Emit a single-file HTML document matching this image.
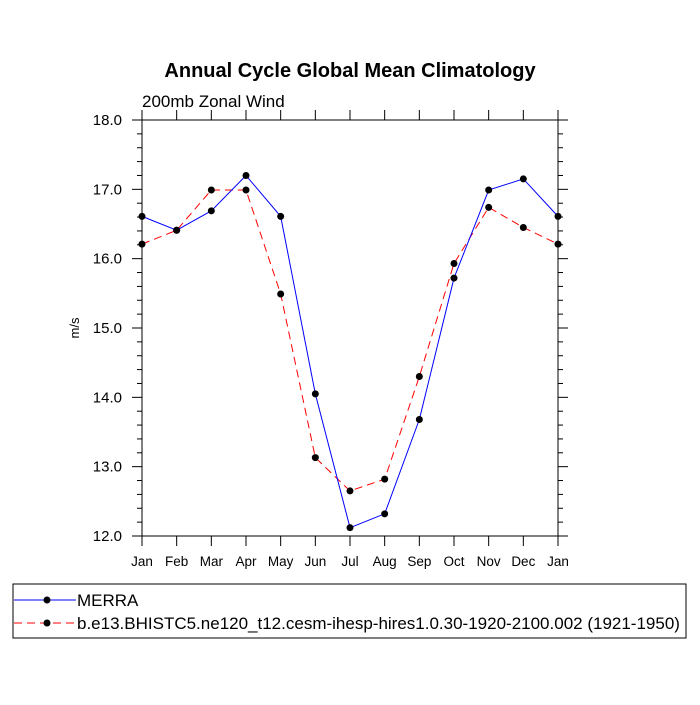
<!DOCTYPE html>
<html><head><meta charset="utf-8"><style>
body{margin:0;background:#fff;}
svg text{font-family:"Liberation Sans",sans-serif;}
</style></head><body>
<svg id="chart" width="700" height="700" xmlns="http://www.w3.org/2000/svg">
<text x="350" y="77" text-anchor="middle" font-size="20" font-weight="bold">Annual Cycle Global Mean Climatology</text>
<text x="142" y="107" font-size="17">200mb Zonal Wind</text>
<text transform="translate(79,328) rotate(-90)" text-anchor="middle" font-size="13">m/s</text>
<rect x="142" y="120" width="416" height="416" fill="none" stroke="#000" stroke-width="1"/>
<g id="axes"></g>
<g id="series"></g>
<rect x="13" y="584" width="673" height="54" fill="none" stroke="#000" stroke-width="1"/>
<g>
<line x1="14" y1="600" x2="76" y2="600" stroke="#0000ff" stroke-width="1"/>
<circle cx="47" cy="600" r="3.5" fill="#000"/>
<text x="77" y="606" font-size="17">MERRA</text>
</g>
<g>
<line x1="14" y1="623" x2="76" y2="623" stroke="#ff0000" stroke-width="1" stroke-dasharray="8,5"/>
<circle cx="47" cy="623" r="3.5" fill="#000"/>
<text x="77" y="629" font-size="17">b.e13.BHISTC5.ne120_t12.cesm-ihesp-hires1.0.30-1920-2100.002 (1921-1950)</text>
</g>
</svg>
<script>
const months=["Jan","Feb","Mar","Apr","May","Jun","Jul","Aug","Sep","Oct","Nov","Dec","Jan"];
const merra=[16.61,16.41,16.69,17.20,16.61,14.05,12.12,12.32,13.68,15.72,16.99,17.15,16.61];
const model=[16.21,16.41,16.99,16.99,15.49,13.13,12.65,12.82,14.30,15.93,16.74,16.45,16.21];
const yTicks=["12.0","13.0","14.0","15.0","16.0","17.0","18.0"];
const NS="http://www.w3.org/2000/svg";
const X0=142,X1=558,Y0=536,Y1=120,YMIN=12,YMAX=18;
function xs(i){return X0+(X1-X0)*i/(months.length-1);}
function ys(v){return Y0-(v-YMIN)/(YMAX-YMIN)*(Y0-Y1);}
function mk(t,a,p){const e=document.createElementNS(NS,t);for(const k in a)e.setAttribute(k,a[k]);p.appendChild(e);return e;}
const ax=document.getElementById('axes');
months.forEach((m,i)=>{
 const x=xs(i);
 mk('line',{x1:x,y1:Y0,x2:x,y2:Y0+10,stroke:'#000'},ax);
 mk('line',{x1:x,y1:Y1,x2:x,y2:Y1-10,stroke:'#000'},ax);
 const t=mk('text',{x:x,y:Y0+30,'text-anchor':'middle','font-size':13.5},ax);
 t.textContent=m;
 
 
});
for(let v=YMIN;v<=YMAX+1e-6;v+=0.2){
 const y=ys(v),maj=Math.abs(v-Math.round(v))<1e-6,l=maj?10:5;
 mk('line',{x1:X0-l,y1:y,x2:X0,y2:y,stroke:'#000'},ax);
 mk('line',{x1:X1,y1:y,x2:X1+l,y2:y,stroke:'#000'},ax);
}
yTicks.forEach(s=>{
 const t=mk('text',{x:X0-20,y:ys(parseFloat(s))+5,'text-anchor':'end','font-size':15},ax);
 t.textContent=s;
 
 
});
const sg=document.getElementById('series');
function draw(vals,color,dash,name){
 const g=mk('g',{},sg);
 
 
 const p=mk('polyline',{points:vals.map((v,i)=>xs(i)+','+ys(v)).join(' '),fill:'none',stroke:color,'stroke-width':1},g);
 if(dash)p.setAttribute('stroke-dasharray',dash);
 vals.forEach((v,i)=>{
  const c=mk('circle',{cx:xs(i),cy:ys(v),r:3.5,fill:'#000'},g);
  
  
 });
}
draw(model,'#ff0000','8,5','series-model');
draw(merra,'#0000ff',null,'series-merra');
</script>
</body></html>
